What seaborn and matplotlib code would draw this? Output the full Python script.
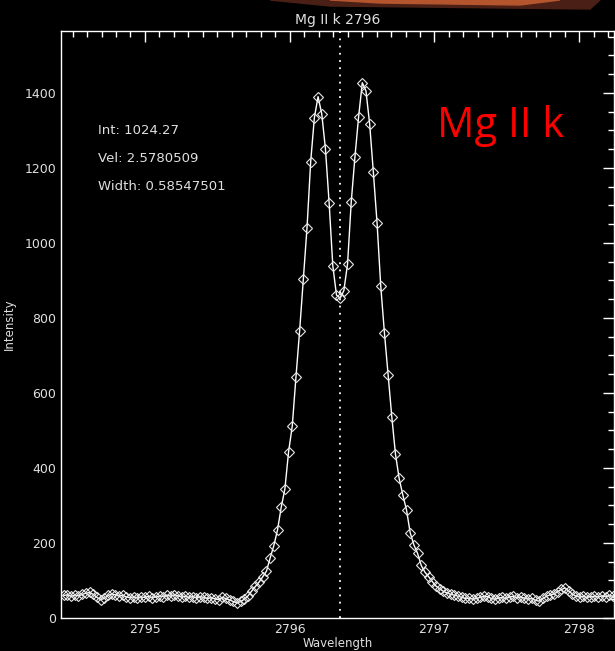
import numpy as np
import pandas as pd
import matplotlib
matplotlib.use("Agg")
import matplotlib.pyplot as plt
from matplotlib.patches import Polygon
from matplotlib.ticker import MultipleLocator
import seaborn as sns

# IRIS NUV pixel grid (start wavelength and dispersion, Angstrom)
wave_start = 2794.439
dispersion = 0.02546
line_center = 2796.35

intensity = [
    60, 62, 58, 61, 59, 63, 66, 68, 63, 55,
    49, 52, 60, 64, 62, 58, 61, 56, 54, 57,
    53, 56, 55, 58, 54, 56, 59, 57, 61, 58,
    62, 59, 56, 58, 55, 57, 54, 57, 55, 52,
    54, 51, 49, 55, 52, 48, 44, 40, 44, 50,
    59, 72, 84, 96, 110, 125, 160, 193, 235, 295,
    344, 443, 512, 642, 766, 904, 1040, 1217, 1334, 1390,
    1344, 1251, 1107, 939, 861, 853, 873, 944, 1109, 1229,
    1336, 1427, 1405, 1317, 1189, 1054, 886, 761, 648, 537,
    437, 372, 328, 288, 227, 195, 172, 140, 122, 110,
    97, 85, 78, 71, 67, 63, 61, 58, 55, 52,
    53, 50, 52, 55, 58, 57, 52, 50, 53, 55,
    52, 56, 58, 54, 56, 53, 50, 52, 47, 45,
    52, 58, 62, 64, 70, 76, 80, 72, 64, 58,
    56, 58, 55, 57, 58, 56, 59, 57, 60, 58,
    59,
]
wavelength = wave_start + dispersion * np.arange(len(intensity))

fit_labels = ["Int: 1024.27", "Vel: 2.5780509", "Width: 0.58547501"]

df = pd.DataFrame({"wavelength": wavelength, "intensity": intensity})

sns.set_style("dark")
plt.rcParams["font.family"] = ["DejaVu Sans"]

W, H = 615, 651
fig = plt.figure(figsize=(W / 100, H / 100), dpi=100, facecolor="black")

# bit of the solar image peeking in at the top
fig.patches.append(Polygon([(270 / W, 1), (600 / W, 1), (590 / W, 1 - 9 / H), (330 / W, 1 - 6 / H)],
                           closed=True, transform=fig.transFigure, color="#4a2016", zorder=0))
fig.patches.append(Polygon([(330 / W, 1), (560 / W, 1), (520 / W, 1 - 5 / H), (380 / W, 1 - 3 / H)],
                           closed=True, transform=fig.transFigure, color="#b5552e", zorder=0))

ax = fig.add_axes([61 / W, 1 - 618 / H, 553 / W, 587 / H])
ax.set_facecolor("black")

sns.lineplot(data=df, x="wavelength", y="intensity", ax=ax, color="white", lw=1.0,
             marker="D", markersize=5.5, markerfacecolor="none", markeredgecolor="#e8e8e8",
             markeredgewidth=0.8, estimator=None, sort=False)

ax.axvline(line_center, color="white", lw=1.3, linestyle=(0, (1, 3)))

ax.set_xlim(2794.42, 2798.24)
ax.set_ylim(0, 1565)
ax.xaxis.set_major_locator(MultipleLocator(1))
ax.xaxis.set_minor_locator(MultipleLocator(0.1))
ax.yaxis.set_major_locator(MultipleLocator(200))
ax.yaxis.set_minor_locator(MultipleLocator(50))
ax.tick_params(which="both", direction="in", top=True, right=True, colors="white",
               labelcolor="#e0e0e0", labelsize=9, width=1)
ax.tick_params(which="major", length=8)
ax.tick_params(which="minor", length=4)
for s in ax.spines.values():
    s.set_color("white")
    s.set_linewidth(1)
ax.grid(False)

ax.set_title("Mg II k 2796", color="#e0e0e0", fontsize=10, pad=5)
ax.set_xlabel("Wavelength", color="#e0e0e0", fontsize=8.5, labelpad=1)
ax.set_ylabel("Intensity", color="#e0e0e0", fontsize=8.5, labelpad=6)

for i, t in enumerate(fit_labels):
    fig.text(98 / W, 1 - (131 + 27.5 * i) / H, t, color="#e0e0e0", fontsize=9.5, va="center")

fig.text(437 / W, 1 - 137 / H, "Mg II k", color="#ff0000", fontsize=30,
         family=["Open Sans", "DejaVu Sans"], va="baseline")

fig.savefig("out.png", dpi=100, facecolor="black")
